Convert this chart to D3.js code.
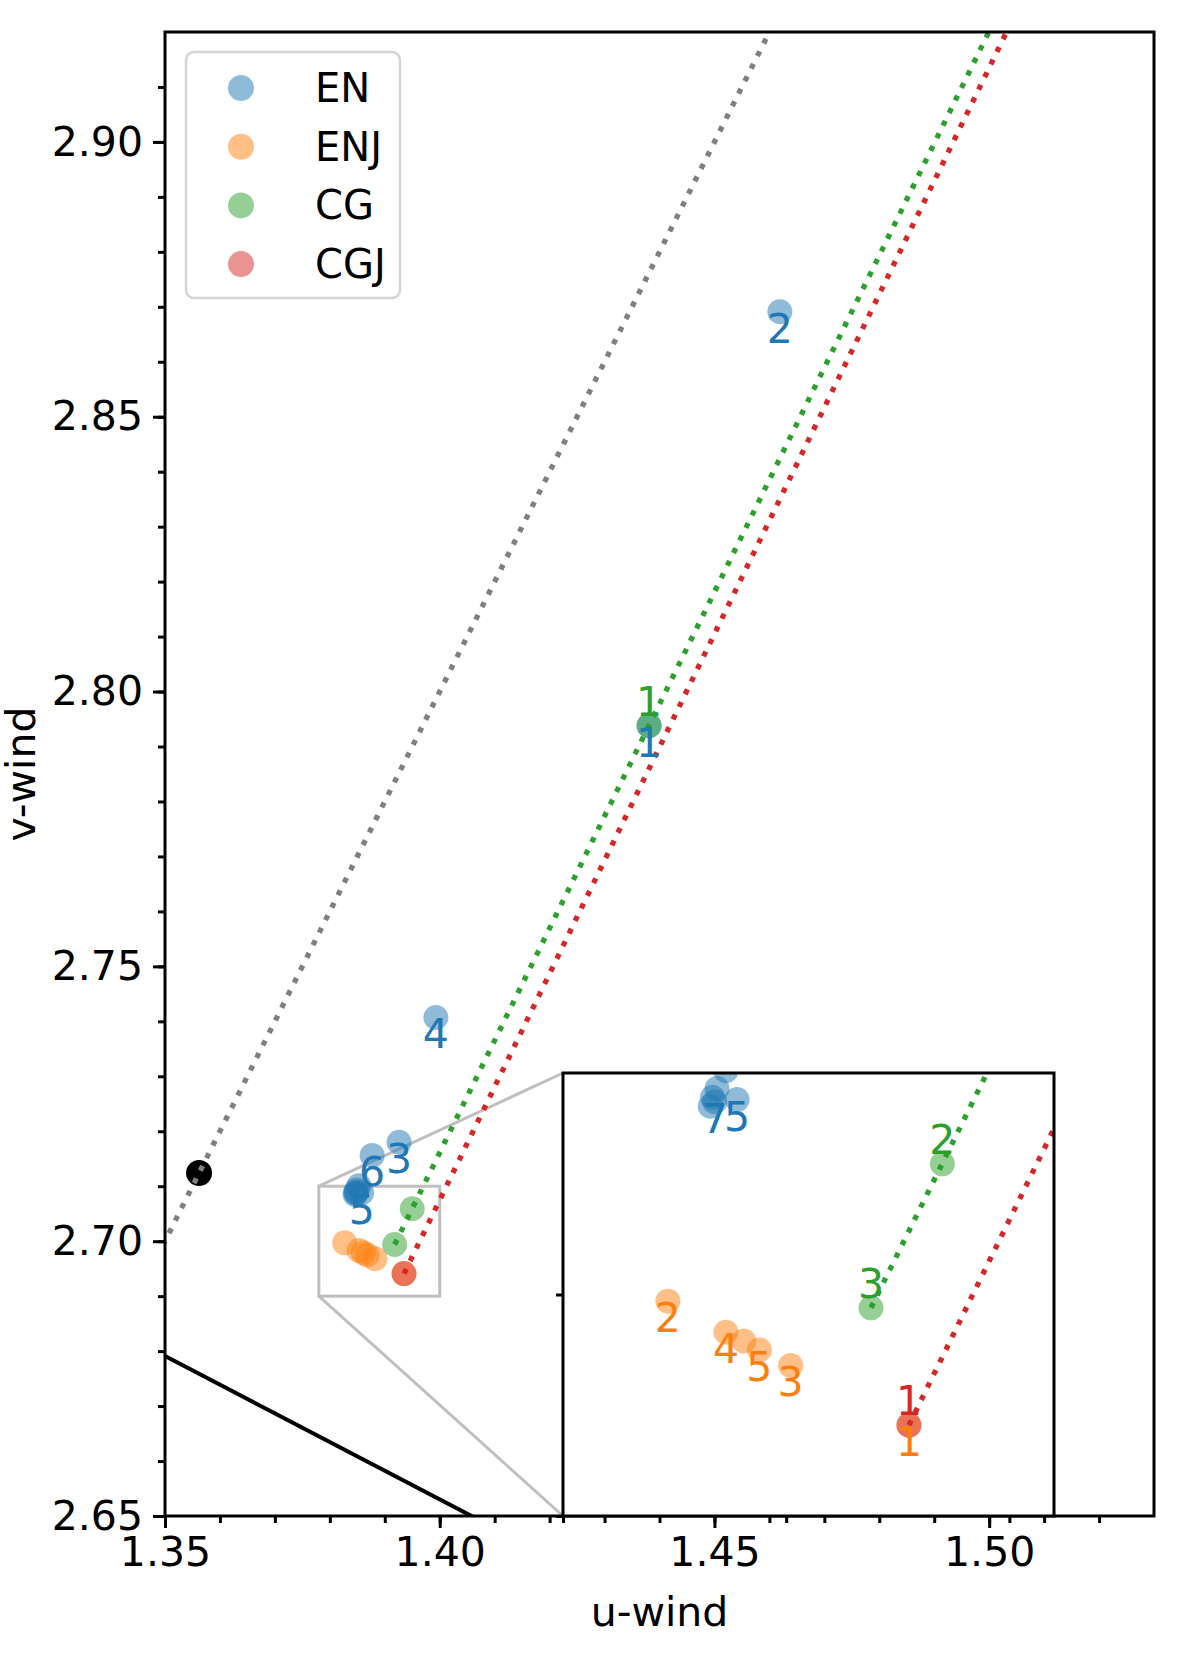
<!DOCTYPE html>
<html lang="en">
<head>
<meta charset="UTF-8">
<title>u/v wind</title>
<style>
  body { margin: 0; background: #fff; }
  svg { display: block; font-family: "DejaVu Sans", sans-serif; }
</style>
</head>
<body>
<svg id="CHART"></svg>
<script src="https://cdnjs.cloudflare.com/ajax/libs/d3/7.8.5/d3.min.js"></script>
<script>
// ==================================================================
// data

const seriesNames = ["EN", "ENJ", "CG", "CGJ"];
const seriesColors = ["#1f77b4", "#ff7f0e", "#2ca02c", "#d62728"];

const enU = [1.4381, 1.4619, 1.3926, 1.3993, 1.3858, 1.3877, 1.3848, 1.3846, 1.3847, 1.3849, 1.3853];
const enV = [2.7938, 2.8691, 2.7180, 2.7407, 2.7088, 2.7156, 2.7087, 2.7085, 2.7089, 2.7093, 2.7101];
const enLabels = ["1", "2", "3", "4", "5", "6", "7", "", "", "", ""];

const enjU = [1.3935, 1.3827, 1.3882, 1.3853, 1.3868, 1.3861];
const enjV = [2.6941, 2.6997, 2.6968, 2.6983, 2.6975, 2.6979];
const enjLabels = ["1", "2", "3", "4", "5", ""];

const cgU = [1.4381, 1.3950, 1.3918];
const cgV = [2.7938, 2.7059, 2.6994];
const cgLabels = ["1", "2", "3"];

const cgjU = [1.3935];
const cgjV = [2.6941];
const cgjLabels = ["1"];

// labels that show on the big axes (the inset shows them all)
const mainLabels = { EN: ["1", "2", "3", "4", "5", "6"], ENJ: [], CG: ["1"], CGJ: [] };

// reference point
const refU = [1.3562];
const refV = [2.7124];

// dotted direction lines: start point + slope
const rayColors = ["#7f7f7f", "#2ca02c", "#d62728"];
const rayU = [1.3562, 1.3918, 1.3935];
const rayV = [2.7124, 2.6994, 2.6941];
const raySlope = [2.0, 2.04, 2.06];
const rayBoth = [true, false, false];

// solid black line (two points on it)
const blackU = [1.35, 1.4058];
const blackV = [2.6791, 2.65];

const xTicks = [1.35, 1.40, 1.45, 1.50];
const yTicks = [2.65, 2.70, 2.75, 2.80, 2.85, 2.90];

const mainXDomain = [1.35, 1.53];
const mainYDomain = [2.65, 2.92];
const insetXDomain = [1.378, 1.400];
const insetYDomain = [2.69, 2.71];

// ==================================================================
const W = 1200, H = 1662;
const FS = 41;
const box = { l: 165, r: 1154, t: 32, b: 1516 };
const ins = { l: 563, r: 1054, t: 1073, b: 1516 };

const svg = d3.select("#CHART").attr("width", W).attr("height", H);
svg.append("rect").attr("width", W).attr("height", H).attr("fill", "#fff");

const x = d3.scaleLinear(mainXDomain, [box.l, box.r]);
const y = d3.scaleLinear(mainYDomain, [box.b, box.t]);
const xi = d3.scaleLinear(insetXDomain, [ins.l, ins.r]);
const yi = d3.scaleLinear(insetYDomain, [ins.b, ins.t]);

const series = [
  { name: "EN", u: enU, v: enV, labels: enLabels, below: true },
  { name: "ENJ", u: enjU, v: enjV, labels: enjLabels, below: true },
  { name: "CG", u: cgU, v: cgV, labels: cgLabels, below: false },
  { name: "CGJ", u: cgjU, v: cgjV, labels: cgjLabels, below: false }
];
series.forEach((s, i) => {
  s.color = seriesColors[i];
  s.pts = s.u.map((u, k) => ({ u, v: s.v[k], label: s.labels[k] }));
});

const defs = svg.append("defs");
defs.append("clipPath").attr("id", "clipMain").append("rect")
  .attr("x", box.l).attr("y", box.t).attr("width", box.r - box.l).attr("height", box.b - box.t);
defs.append("clipPath").attr("id", "clipInset").append("rect")
  .attr("x", ins.l).attr("y", ins.t).attr("width", ins.r - ins.l).attr("height", ins.b - ins.t);

function drawPanel(g, sx, sy, showLabel) {
  const [u0, u1] = sx.domain();
  const [v0, v1] = sy.domain();
  const inside = d => d.u >= u0 && d.u <= u1 && d.v >= v0 && d.v <= v1;

  // black solid line
  const bs = (blackV[1] - blackV[0]) / (blackU[1] - blackU[0]);
  g.append("line")
    .attr("x1", sx(u0 - 1)).attr("y1", sy(blackV[0] + bs * (u0 - 1 - blackU[0])))
    .attr("x2", sx(u1 + 1)).attr("y2", sy(blackV[0] + bs * (u1 + 1 - blackU[0])))
    .attr("stroke", "#000").attr("stroke-width", 4);

  // scatter
  series.forEach(s => {
    g.append("g").selectAll("circle")
      .data(s.pts)
      .join("circle")
      .attr("cx", d => sx(d.u)).attr("cy", d => sy(d.v))
      .attr("r", 12.5)
      .attr("fill", s.color).attr("fill-opacity", 0.5);
  });

  g.selectAll("circle.ref")
    .data(refU.map((u, k) => ({ u, v: refV[k] })))
    .join("circle").attr("class", "ref")
    .attr("cx", d => sx(d.u)).attr("cy", d => sy(d.v))
    .attr("r", 13).attr("fill", "#000");

  // dotted rays
  rayU.forEach((u, k) => {
    const ua = rayBoth[k] ? u - 1 : u;
    const ub = u + 1;
    g.append("line")
      .attr("x1", sx(ua)).attr("y1", sy(rayV[k] + raySlope[k] * (ua - u)))
      .attr("x2", sx(ub)).attr("y2", sy(rayV[k] + raySlope[k] * (ub - u)))
      .attr("stroke", rayColors[k]).attr("stroke-width", 5.3)
      .attr("stroke-dasharray", "5.3 8.7");
  });

  // number labels
  series.forEach(s => {
    g.append("g").selectAll("text")
      .data(s.pts.filter(d => d.label !== "" && inside(d) && showLabel(s, d)))
      .join("text")
      .attr("x", d => sx(d.u))
      .attr("y", d => sy(d.v) + (s.below ? 31 : -10))
      .attr("text-anchor", "middle")
      .attr("font-size", FS)
      .attr("fill", s.color)
      .text(d => d.label);
  });
}

// zoom rectangle + connectors (under the marks)
const zoomColor = "#bfbfbf";
svg.append("rect")
  .attr("x", x(insetXDomain[0])).attr("y", y(insetYDomain[1]))
  .attr("width", x(insetXDomain[1]) - x(insetXDomain[0]))
  .attr("height", y(insetYDomain[0]) - y(insetYDomain[1]))
  .attr("fill", "none").attr("stroke", zoomColor).attr("stroke-width", 3);
svg.append("line")
  .attr("x1", x(insetXDomain[0])).attr("y1", y(insetYDomain[1]))
  .attr("x2", ins.l).attr("y2", ins.t)
  .attr("stroke", zoomColor).attr("stroke-width", 3);
svg.append("line")
  .attr("x1", x(insetXDomain[0])).attr("y1", y(insetYDomain[0]))
  .attr("x2", ins.l).attr("y2", ins.b)
  .attr("stroke", zoomColor).attr("stroke-width", 3);

// ---- main axes
const main = svg.append("g").attr("clip-path", "url(#clipMain)");
drawPanel(main, x, y, (s, d) => mainLabels[s.name].includes(d.label));

// main axes frame + ticks
const frame = svg.append("g");
const xMinor = d3.range(135, 153).map(v => v / 100);
const yMinor = d3.range(265, 292).map(v => v / 100);

frame.append("g")
  .attr("transform", `translate(0,${box.b})`)
  .call(d3.axisBottom(x).tickValues(xMinor).tickSize(7).tickFormat(""));
frame.append("g")
  .attr("transform", `translate(0,${box.b})`)
  .call(d3.axisBottom(x).tickValues(xTicks).tickSize(12).tickPadding(9).tickFormat(d3.format(".2f")));
frame.append("g")
  .attr("transform", `translate(${box.l},0)`)
  .call(d3.axisLeft(y).tickValues(yMinor).tickSize(7).tickFormat(""));
frame.append("g")
  .attr("transform", `translate(${box.l},0)`)
  .call(d3.axisLeft(y).tickValues(yTicks).tickSize(12).tickPadding(10).tickFormat(d3.format(".2f")));

frame.selectAll(".domain").remove();
frame.selectAll(".tick line").attr("stroke", "#000").attr("stroke-width", 3);
frame.selectAll(".tick text").attr("font-size", FS).attr("fill", "#000")
  .attr("font-family", "DejaVu Sans, sans-serif");

frame.append("rect")
  .attr("x", box.l).attr("y", box.t)
  .attr("width", box.r - box.l).attr("height", box.b - box.t)
  .attr("fill", "none").attr("stroke", "#000").attr("stroke-width", 3);

svg.append("text")
  .attr("x", (box.l + box.r) / 2).attr("y", 1626)
  .attr("text-anchor", "middle").attr("font-size", FS)
  .text("u-wind");
svg.append("text")
  .attr("transform", `translate(35,${(box.t + box.b) / 2}) rotate(-90)`)
  .attr("text-anchor", "middle").attr("font-size", FS)
  .text("v-wind");

// ---- inset axes
svg.append("rect")
  .attr("x", ins.l).attr("y", ins.t)
  .attr("width", ins.r - ins.l).attr("height", ins.b - ins.t)
  .attr("fill", "#fff");
const inset = svg.append("g").attr("clip-path", "url(#clipInset)");
drawPanel(inset, xi, yi, () => true);

const insFrame = svg.append("g");
insFrame.append("g")
  .attr("transform", `translate(0,${ins.b})`)
  .call(d3.axisBottom(xi).tickValues(d3.range(0, 3).map(k => insetXDomain[0] + k * 0.01)).tickSize(7).tickFormat(""));
insFrame.append("g")
  .attr("transform", `translate(${ins.l},0)`)
  .call(d3.axisLeft(yi).tickValues(d3.range(0, 2).map(k => insetYDomain[0] + k * 0.01)).tickSize(7).tickFormat(""));
insFrame.selectAll(".domain").remove();
insFrame.selectAll(".tick line").attr("stroke", "#000").attr("stroke-width", 3);
insFrame.append("rect")
  .attr("x", ins.l).attr("y", ins.t)
  .attr("width", ins.r - ins.l).attr("height", ins.b - ins.t)
  .attr("fill", "none").attr("stroke", "#000").attr("stroke-width", 3);

// ---- legend
const leg = svg.append("g");
leg.append("rect")
  .attr("x", 186).attr("y", 52).attr("width", 214).attr("height", 246)
  .attr("rx", 8)
  .attr("fill", "#fff").attr("fill-opacity", 0.8)
  .attr("stroke", "#d4d4d4").attr("stroke-width", 2.5);
const items = leg.selectAll("g.item")
  .data(seriesNames)
  .join("g").attr("class", "item")
  .attr("transform", (d, i) => `translate(241,${88 + i * 58.7})`);
items.append("circle")
  .attr("r", 13)
  .attr("fill", (d, i) => seriesColors[i]).attr("fill-opacity", 0.5);
items.append("text")
  .attr("x", 74).attr("y", 14)
  .attr("font-size", 40)
  .text(d => d);
</script>
</body>
</html>
